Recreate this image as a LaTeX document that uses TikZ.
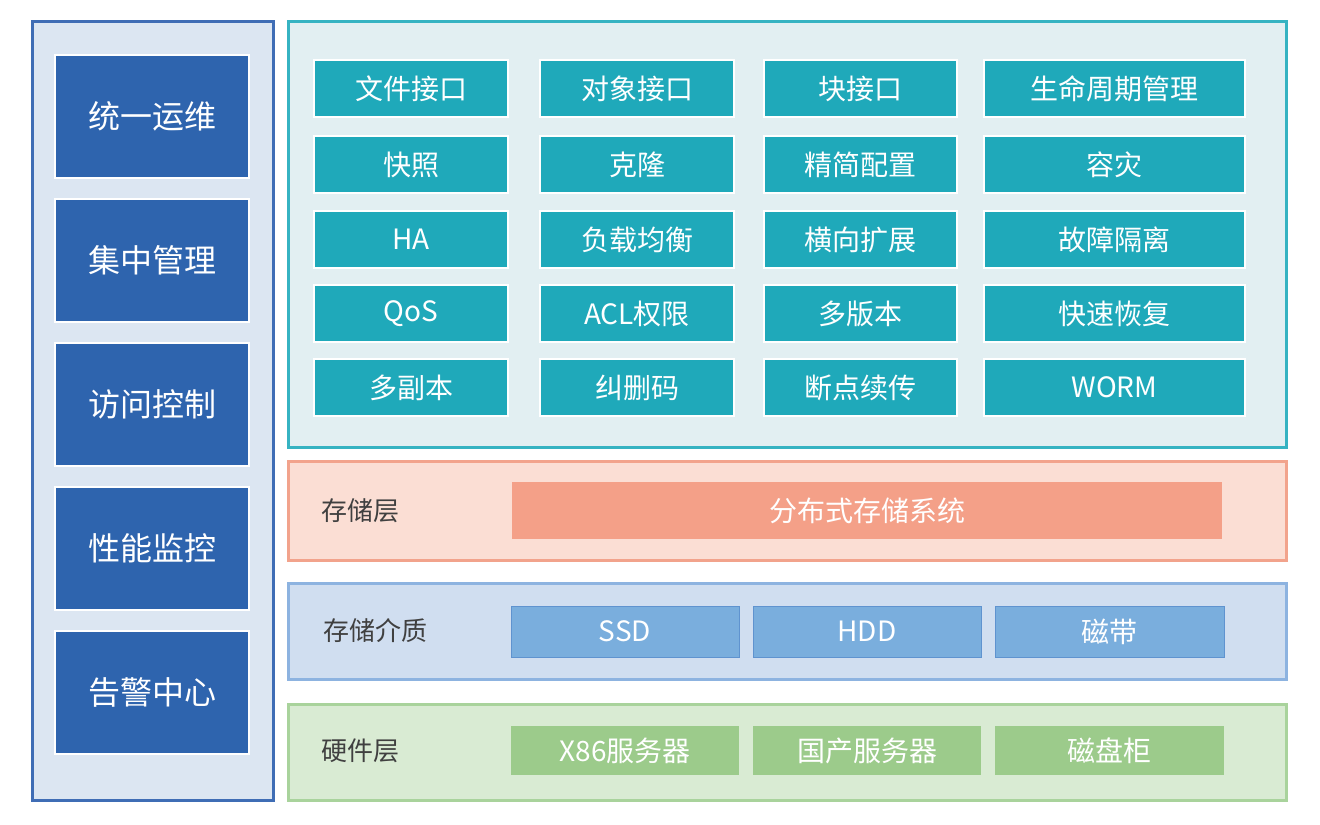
\documentclass[tikz,border=0pt]{standalone}
\usepackage{fontspec}
\setmainfont{Noto Sans CJK SC}
\definecolor{lpfill}{HTML}{DCE6F2}\definecolor{lpline}{HTML}{3F6DB5}
\definecolor{lbox}{HTML}{2E64AE}
\definecolor{tpfill}{HTML}{E2EFF2}\definecolor{tpline}{HTML}{36B3C2}
\definecolor{tbox}{HTML}{1FA9BA}
\definecolor{spfill}{HTML}{FBDED4}\definecolor{spline}{HTML}{F2A38C}\definecolor{sbox}{HTML}{F4A088}
\definecolor{mpfill}{HTML}{D0DEF0}\definecolor{mpline}{HTML}{8DB3E0}\definecolor{mbox}{HTML}{7AAEDD}\definecolor{mboxl}{HTML}{5F93CF}
\definecolor{hpfill}{HTML}{D9EBD3}\definecolor{hpline}{HTML}{A9D39C}\definecolor{hbox}{HTML}{9CCB8B}
\definecolor{lbl}{HTML}{404040}
\tikzset{
 panel/.style={draw=#1,line width=1.5pt},
 cell/.style={text=white,font=\fontsize{14}{16}\selectfont,inner sep=0pt,outer sep=0pt},
}
\newcommand{\rbox}[6]{\node[cell,#6,minimum width={((#3)-(#1))*0.5pt},minimum height={((#4)-(#2))*0.5pt},anchor=north west] (#5) at (#1,#2)}
\begin{document}
\begin{tikzpicture}[x=0.5pt,y=-0.5pt]
\useasboundingbox (0,0) rectangle (1320,824);
% left panel
\draw[panel=lpline,fill=lpfill] (32,22) rectangle (273,800);
\foreach \y/\t/\n in {55/统一运维/l1,199/集中管理/l2,343/访问控制/l3,487/性能监控/l4,631/告警中心/l5}{
 \rbox{55}{\y}{249}{\y+123}{\n}{fill=lbox,draw=white,line width=1pt,font=\fontsize{16}{18}\selectfont}{\t};
}
% top panel
\draw[panel=tpline,fill=tpfill] (288,22) rectangle (1286,447);
\foreach \r/\y in {1/60,2/136,3/211,4/285,5/359}{
 \foreach \c/\xa/\xb in {1/314/508,2/540/734,3/764/957,4/984/1245}{
  \rbox{\xa}{\y}{\xb}{\y+57}{t\r\c}{fill=tbox,draw=white,line width=1pt}{};
 }}
\foreach \n/\t in {t11/文件接口,t12/对象接口,t13/块接口,t14/生命周期管理,
 t21/快照,t22/克隆,t23/精简配置,t24/容灾,
 t31/HA,t32/负载均衡,t33/横向扩展,t34/故障隔离,
 t41/QoS,t42/ACL权限,t43/多版本,t44/快速恢复,
 t51/多副本,t52/纠删码,t53/断点续传,t54/WORM}
 \node[cell] at (\n) {\t};
% storage layer
\draw[panel=spline,fill=spfill] (288,461) rectangle (1286,560);
\node[text=lbl,font=\fontsize{13}{15}\selectfont] (sl) at (360,511) {存储层};
\rbox{512}{482}{1222}{539}{sys}{fill=sbox}{分布式存储系统};
% media
\draw[panel=mpline,fill=mpfill] (288,583) rectangle (1286,679);
\node[text=lbl,font=\fontsize{13}{15}\selectfont] (ml) at (375,631) {存储介质};
\rbox{511}{606}{739}{657}{m1}{fill=mbox,draw=mboxl}{SSD};
\rbox{753}{606}{981}{657}{m2}{fill=mbox,draw=mboxl}{HDD};
\rbox{995}{606}{1224}{657}{m3}{fill=mbox,draw=mboxl}{磁带};
% hardware
\draw[panel=hpline,fill=hpfill] (288,704) rectangle (1286,800);
\node[text=lbl,font=\fontsize{13}{15}\selectfont] (hl) at (360,751) {硬件层};
\rbox{511}{726}{739}{775}{h1}{fill=hbox}{X86服务器};
\rbox{753}{726}{981}{775}{h2}{fill=hbox}{国产服务器};
\rbox{995}{726}{1224}{775}{h3}{fill=hbox}{磁盘柜};
\end{tikzpicture}
\end{document}
